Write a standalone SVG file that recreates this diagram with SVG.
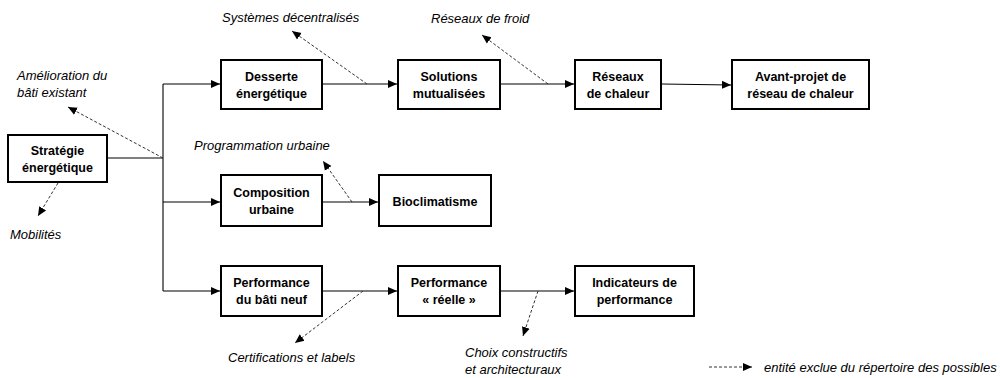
<svg xmlns="http://www.w3.org/2000/svg" width="1000" height="378" viewBox="0 0 1000 378">
<style>
.box{fill:#fff;stroke:#000;stroke-width:2}
.bt{font-family:"Liberation Sans",Arial,sans-serif;font-size:12.5px;font-weight:bold;text-anchor:middle;fill:#000}
.it{font-family:"Liberation Sans",Arial,sans-serif;font-size:13px;font-style:italic;fill:#000}
.ln{fill:none;stroke:#000;stroke-width:1.1}
.ds{fill:none;stroke:#333;stroke-width:1;stroke-dasharray:3,2}
</style>
<defs>
<marker id="ah" markerWidth="10" markerHeight="10" refX="9" refY="5" orient="auto" markerUnits="userSpaceOnUse">
<path d="M0,1 L9,5 L0,9 Z" fill="#000"/>
</marker>
</defs>
<rect width="1000" height="378" fill="#fff"/>
<g id="connectors">
<path class="ln" d="M107,158 H163"/>
<path class="ln" d="M163,84 V291"/>
<path class="ln" d="M163,84 H220" marker-end="url(#ah)"/>
<path class="ln" d="M163,202 H220" marker-end="url(#ah)"/>
<path class="ln" d="M163,291 H220" marker-end="url(#ah)"/>
<path class="ln" d="M323,84 H397" marker-end="url(#ah)"/>
<path class="ln" d="M501,84 H574" marker-end="url(#ah)"/>
<path class="ln" d="M662,84 L731,85" marker-end="url(#ah)"/>
<path class="ln" d="M323,202 H378" marker-end="url(#ah)"/>
<path class="ln" d="M323,291 H397" marker-end="url(#ah)"/>
<path class="ln" d="M501,291 H574" marker-end="url(#ah)"/>
<path class="ds" d="M163,158 L68,107" marker-end="url(#ah)"/>
<path class="ds" d="M58,183 L38,216" marker-end="url(#ah)"/>
<path class="ds" d="M367,84 L292,31" marker-end="url(#ah)"/>
<path class="ds" d="M548,84 L482,35" marker-end="url(#ah)"/>
<path class="ds" d="M352,202 L323,161" marker-end="url(#ah)"/>
<path class="ds" d="M363,291 L295,343" marker-end="url(#ah)"/>
<path class="ds" d="M538,291 L523,336" marker-end="url(#ah)"/>
<path class="ds" d="M709,367 L752,367" marker-end="url(#ah)"/>
</g>
<g id="strategie">
<rect class="box" x="8" y="135" width="99" height="47"/>
<text class="bt" x="57.5" y="155">Stratégie</text>
<text class="bt" x="57.5" y="172">énergétique</text>
</g>
<g id="desserte">
<rect class="box" x="221" y="60" width="101" height="49"/>
<text class="bt" x="271.5" y="81">Desserte</text>
<text class="bt" x="271.5" y="98">énergétique</text>
</g>
<g id="solutions">
<rect class="box" x="398" y="60" width="102" height="49"/>
<text class="bt" x="449" y="81">Solutions</text>
<text class="bt" x="449" y="98">mutualisées</text>
</g>
<g id="reseaux">
<rect class="box" x="575" y="60" width="86" height="49"/>
<text class="bt" x="618" y="81">Réseaux</text>
<text class="bt" x="618" y="98">de chaleur</text>
</g>
<g id="avant-projet">
<rect class="box" x="732" y="60" width="137" height="49"/>
<text class="bt" x="800.5" y="81">Avant-projet de</text>
<text class="bt" x="800.5" y="98">réseau de chaleur</text>
</g>
<g id="composition">
<rect class="box" x="221" y="175" width="101" height="51"/>
<text class="bt" x="271.5" y="197">Composition</text>
<text class="bt" x="271.5" y="214">urbaine</text>
</g>
<g id="bioclimatisme">
<rect class="box" x="379" y="175" width="112" height="51"/>
<text class="bt" x="435" y="206">Bioclimatisme</text>
</g>
<g id="perf-neuf">
<rect class="box" x="221" y="266" width="101" height="50"/>
<text class="bt" x="271.5" y="287">Performance</text>
<text class="bt" x="271.5" y="304">du bâti neuf</text>
</g>
<g id="perf-reelle">
<rect class="box" x="398" y="266" width="102" height="50"/>
<text class="bt" x="449" y="287">Performance</text>
<text class="bt" x="449" y="304">« réelle »</text>
</g>
<g id="indicateurs">
<rect class="box" x="575" y="266" width="119" height="50"/>
<text class="bt" x="634.5" y="287">Indicateurs de</text>
<text class="bt" x="634.5" y="304">performance</text>
</g>
<g id="labels">
<text class="it" x="222" y="22">Systèmes décentralisés</text>
<text class="it" x="431" y="23">Réseaux de froid</text>
<text class="it" x="17" y="80">Amélioration du</text>
<text class="it" x="17" y="97">bâti existant</text>
<text class="it" x="194" y="150">Programmation urbaine</text>
<text class="it" x="10" y="239">Mobilités</text>
<text class="it" x="228" y="362">Certifications et labels</text>
<text class="it" x="465" y="357">Choix constructifs</text>
<text class="it" x="465" y="374">et architecturaux</text>
<text class="it" x="764" y="372">entité exclue du répertoire des possibles</text>
</g>
</svg>
